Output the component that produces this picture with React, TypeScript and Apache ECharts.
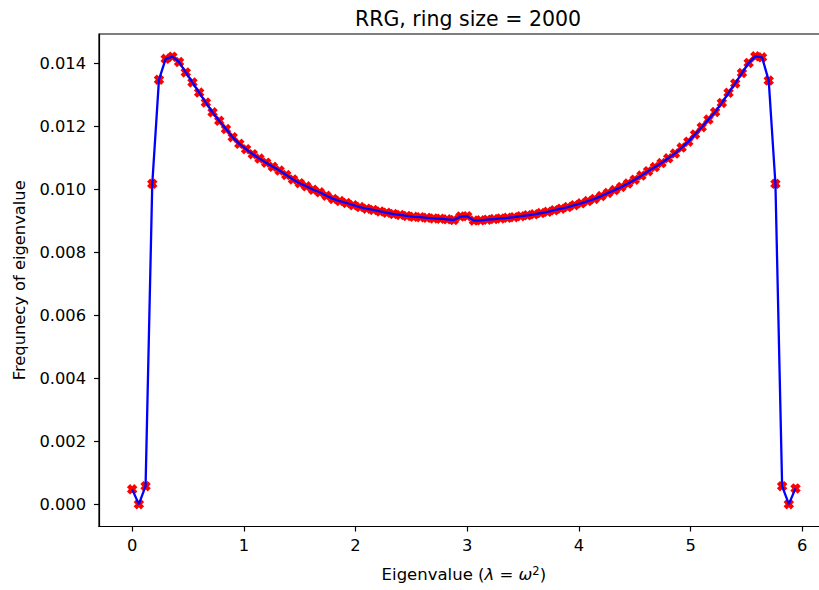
import React, { useEffect, useRef } from "react";
import * as echarts from "echarts";

const xValues = [
  0.0, 0.06, 0.12, 0.18, 0.24, 0.3, 0.36, 0.42, 0.48, 0.54,
  0.6, 0.66, 0.72, 0.78, 0.84, 0.9, 0.96, 1.02, 1.08, 1.14,
  1.2, 1.26, 1.32, 1.38, 1.44, 1.5, 1.56, 1.62, 1.68, 1.74,
  1.8, 1.86, 1.92, 1.98, 2.04, 2.1, 2.16, 2.22, 2.28, 2.34,
  2.4, 2.46, 2.52, 2.58, 2.64, 2.7, 2.76, 2.82, 2.88, 2.94,
  3.0, 3.06, 3.12, 3.18, 3.24, 3.3, 3.36, 3.42, 3.48, 3.54,
  3.6, 3.66, 3.72, 3.78, 3.84, 3.9, 3.96, 4.02, 4.08, 4.14,
  4.2, 4.26, 4.32, 4.38, 4.44, 4.5, 4.56, 4.62, 4.68, 4.74,
  4.8, 4.86, 4.92, 4.98, 5.04, 5.1, 5.16, 5.22, 5.28, 5.34,
  5.4, 5.46, 5.52, 5.58, 5.64, 5.7, 5.76, 5.82, 5.88, 5.94,
];

const frequency = [
  0.00047, 0.0, 0.00057, 0.01018, 0.01349, 0.01415, 0.01422, 0.01405, 0.01372, 0.0134,
  0.01308, 0.01276, 0.01245, 0.01218, 0.01192, 0.01166, 0.01145, 0.01128, 0.01112, 0.01098,
  0.01085, 0.01072, 0.0106, 0.01046, 0.01032, 0.0102, 0.0101, 0.00999, 0.00991, 0.0098,
  0.0097, 0.00963, 0.00957, 0.0095, 0.00944, 0.00939, 0.00935, 0.0093, 0.00926, 0.00922,
  0.00919, 0.00916, 0.00913, 0.00912, 0.0091, 0.00908, 0.00907, 0.00905, 0.00903, 0.00914,
  0.00915, 0.00901, 0.00902, 0.00904, 0.00906, 0.00908, 0.0091, 0.00912, 0.00915, 0.00918,
  0.00921, 0.00925, 0.00929, 0.00934, 0.00939, 0.00944, 0.0095, 0.00956, 0.00963, 0.0097,
  0.00979, 0.00989, 0.00998, 0.01008, 0.01019, 0.01031, 0.01044, 0.01058, 0.01071, 0.01084,
  0.01099, 0.01114, 0.01133, 0.01152, 0.01175, 0.01198, 0.01222, 0.01246, 0.01275, 0.01307,
  0.01337, 0.0137, 0.01402, 0.01423, 0.0142, 0.01346, 0.01018, 0.00057, 0.0, 0.0005,
];

const xTicks = [0, 1, 2, 3, 4, 5, 6];
const yTicks = [0, 0.002, 0.004, 0.006, 0.008, 0.01, 0.012, 0.014];

const FONT = "DejaVu Sans";
const X_MARKER =
  "path://M3,0 L5,2 L7,0 L10,3 L8,5 L10,7 L7,10 L5,8 L3,10 L0,7 L2,5 L0,3 Z";

export default function App() {
  const ref = useRef<HTMLDivElement>(null);

  useEffect(() => {
    if (!ref.current) return;
    const chart = echarts.init(ref.current, null, { renderer: "svg" });
    const points = xValues.map((x, i) => [x, frequency[i]]);

    chart.setOption({
      animation: false,
      backgroundColor: "#ffffff",
      textStyle: { fontFamily: FONT },
      title: {
        text: "RRG, ring size = 2000",
        left: 463,
        textAlign: "center",
        top: 3,
        textStyle: {
          fontFamily: FONT,
          fontSize: 20.5,
          fontWeight: "normal",
          color: "#000",
        },
      },
      grid: {
        left: 99,
        top: 34,
        right: 1.3,
        bottom: 63.5,
        show: true,
        borderColor: "#000",
        borderWidth: 1.2,
        backgroundColor: "transparent",
      },
      xAxis: {
        type: "value",
        min: -0.297,
        max: 6.237,
        name: "Eigenvalue ({i|λ} = {i|ω}{sup|2})",
        nameLocation: "middle",
        nameGap: 38,
        nameTextStyle: {
          fontFamily: FONT,
          fontSize: 16.5,
          color: "#000",
          rich: {
            i: { fontFamily: FONT, fontSize: 16.5, fontStyle: "italic", color: "#000" },
            sup: { fontFamily: FONT, fontSize: 11.5, color: "#000", verticalAlign: "top", padding: [0, 0, 8, 0] },
          },
        },
        splitLine: { show: false },
        axisLine: { show: true, onZero: false, lineStyle: { color: "#000", width: 1.2 } },
        axisTick: {
          show: true,
          length: 5,
          customValues: xTicks,
          lineStyle: { color: "#000", width: 1.2 },
        },
        axisLabel: {
          customValues: xTicks,
          margin: 11,
          fontFamily: FONT,
          fontSize: 16.3,
          color: "#000",
          formatter: (v: number) => String(Math.round(v)),
        },
      },
      yAxis: {
        type: "value",
        min: -0.00071,
        max: 0.01494,
        name: "Frequnecy of eigenvalue",
        nameLocation: "middle",
        nameRotate: 90,
        nameGap: 72,
        nameTextStyle: { fontFamily: FONT, fontSize: 16.3, color: "#000" },
        splitLine: { show: false },
        axisLine: { show: true, onZero: false, lineStyle: { color: "#000", width: 1.2 } },
        axisTick: {
          show: true,
          length: 5,
          customValues: yTicks,
          lineStyle: { color: "#000", width: 1.2 },
        },
        axisLabel: {
          customValues: yTicks,
          margin: 13,
          fontFamily: FONT,
          fontSize: 16.3,
          color: "#000",
          formatter: (v: number) => v.toFixed(3),
        },
      },
      series: [
        {
          type: "scatter",
          data: points,
          symbol: X_MARKER,
          symbolSize: 10.5,
          itemStyle: { color: "#ff0000", opacity: 1 },
          z: 2,
        },
        {
          type: "line",
          data: points,
          showSymbol: false,
          symbol: "none",
          lineStyle: { color: "#0000ff", width: 2.3 },
          z: 3,
        },
      ],
    });

    return () => chart.dispose();
  }, []);

  return (
    <div
      style={{
        position: "absolute",
        left: 0,
        top: 0,
        width: 819,
        height: 590,
        overflow: "hidden",
      }}
    >
      <div ref={ref} style={{ width: 830, height: 590 }} />
    </div>
  );
}
